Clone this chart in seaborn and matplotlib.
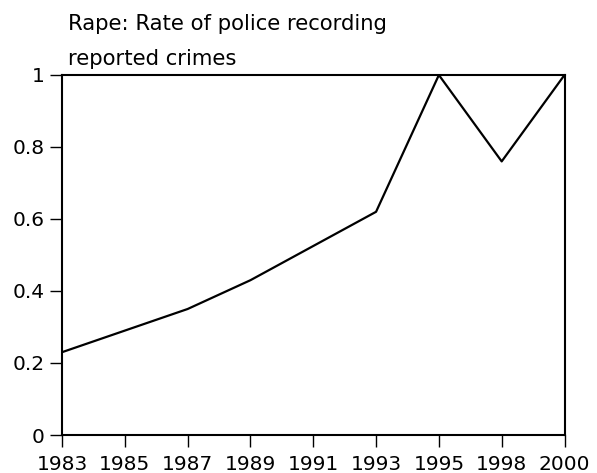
import matplotlib
matplotlib.use("Agg")
import matplotlib.pyplot as plt
import seaborn as sns
import pandas as pd

years = ["1983", "1985", "1987", "1989", "1991", "1993", "1995", "1998", "2000"]
rates = [0.23, 0.29, 0.35, 0.43, 0.525, 0.62, 1.0, 0.76, 1.0]
yticks = [0, 0.2, 0.4, 0.6, 0.8, 1]
ytick_labels = ["0", "0.2", "0.4", "0.6", "0.8", "1"]
title_lines = ["Rape: Rate of police recording", "reported crimes"]

sns.set_style("white")
plt.rcParams["font.family"] = ["DejaVu Sans"]
plt.rcParams["text.color"] = "black"

df = pd.DataFrame({"pos": list(range(len(years))), "rate": rates})

W, H = 597, 473
fig = plt.figure(figsize=(W/100, H/100), dpi=100)
ax = fig.add_axes([62/W, 1-435/H, (564.5-62)/W, (435-75)/H])
sns.lineplot(data=df, x="pos", y="rate", ax=ax, color="black", linewidth=1.6)

ax.set_xlim(0, len(years)-1)
ax.set_ylim(0, 1)
ax.set_xticks(range(len(years)))
ax.set_xticklabels(years)
ax.set_yticks(yticks)
ax.set_yticklabels(ytick_labels)
ax.set_xlabel("")
ax.set_ylabel("")
for s in ax.spines.values():
    s.set_visible(True)
    s.set_color("black")
    s.set_linewidth(1.5)
ax.tick_params(axis="both", direction="out", length=8.5, width=1, color="black",
               labelsize=14.5, labelcolor="black", bottom=True, left=True)
ax.tick_params(axis="x", pad=6)
ax.tick_params(axis="y", pad=4)

fig.text(68/W, 1-30/H, title_lines[0], fontsize=15.2, va="baseline", ha="left", color="black")
fig.text(68/W, 1-65/H, title_lines[1], fontsize=15.2, va="baseline", ha="left", color="black")

fig.savefig("out.png", dpi=100)
